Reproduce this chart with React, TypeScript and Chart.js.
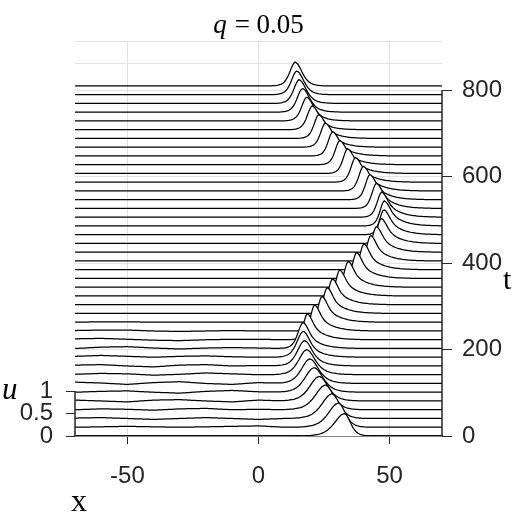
import React, { useEffect, useRef } from "react";
import { Chart, registerables } from "chart.js";

Chart.register(...registerables);

// ---- data ----
const TIMES = [
  0, 20.25, 40.5, 60.75, 81, 101.25, 121.5, 141.75, 162, 182.25, 202.5,
  222.75, 243, 263.25, 283.5, 303.75, 324, 344.25, 364.5, 384.75, 405,
  425.25, 445.5, 465.75, 486, 506.25, 526.5, 546.75, 567, 587.25, 607.5,
  627.75, 648, 668.25, 688.5, 708.75, 729, 749.25, 769.5, 789.75, 810,
];
// position of the pulse peak (x) of each trace
const PEAK_X = [
  32.8, 30.5, 28.0, 25.5, 23.2, 21.2, 19.6, 18.4, 17.6, 17.1, 17.0,
  18.6, 21.4, 24.2, 26.2, 28.2, 31.0, 34.2, 37.4, 40.2, 42.8,
  45.0, 46.8, 47.8, 48.0, 47.0, 45.0, 42.5, 40.0, 37.0, 34.0,
  31.0, 28.3, 25.5, 23.0, 20.5, 18.4, 16.8, 15.5, 14.6, 14.0,
];
// peak height u of each trace
const PEAK_U = [
  0.5, 0.54, 0.55, 0.55, 0.55, 0.55, 0.55, 0.56, 0.57, 0.58, 0.58,
  0.58, 0.58, 0.58, 0.58, 0.58, 0.58, 0.58, 0.58, 0.58, 0.57,
  0.57, 0.56, 0.56, 0.56, 0.56, 0.56, 0.56, 0.55, 0.55, 0.55,
  0.54, 0.54, 0.54, 0.53, 0.53, 0.53, 0.53, 0.53, 0.53, 0.53,
];
// half-widths (x units) of the rising (left) flank and of the falling (right) core
const WIDTH_LEFT = [
  5, 5, 5, 5, 4.8, 4.5, 4.2, 4, 3.6, 3.2, 2.6,
  1.9, 1.9, 1.9, 1.9, 1.9, 1.9, 1.9, 1.9, 1.9, 1.9,
  2.0, 2.0, 2.1, 2.2, 2.3, 2.3, 2.3, 2.3, 2.3, 2.3,
  2.3, 2.3, 2.4, 2.4, 2.5, 2.6, 2.7, 2.7, 2.7, 2.7,
];
const WIDTH_RIGHT = [
  3, 3.4, 3.8, 4.0, 4.2, 4.2, 4.0, 3.8, 3.4, 3.0, 2.8,
  2.6, 2.6, 2.6, 2.6, 2.6, 2.6, 2.6, 2.6, 2.6, 2.6,
  2.7, 2.8, 2.8, 2.8, 2.8, 2.8, 2.8, 2.8, 2.8, 2.8,
  2.9, 2.9, 3.0, 3.0, 3.1, 3.2, 3.3, 3.4, 3.4, 3.4,
];
// long trailing tail on the right of each pulse: height (u) and half-width (x units)
const TAIL_U = [
  0, 0, 0, 0.03, 0.06, 0.08, 0.1, 0.12, 0.14, 0.16, 0.18,
  0.2, 0.2, 0.2, 0.2, 0.2, 0.2, 0.2, 0.2, 0.2, 0.2,
  0.2, 0.2, 0.2, 0.2, 0.2, 0.2, 0.2, 0.2, 0.2, 0.2,
  0.19, 0.18, 0.17, 0.15, 0.13, 0.11, 0.08, 0.05, 0.02, 0,
];
const TAIL_W = [
  6, 6, 6, 6, 6.5, 7, 7, 7.5, 7.5, 8, 8,
  8, 8, 8, 8, 8, 8, 8, 8, 8, 8,
  8, 8, 8, 8, 8, 8, 8, 8, 8, 8,
  8, 8, 7.5, 7.5, 7, 7, 6.5, 6, 6, 6,
];
// normalised pulse profile (distance from peak in half-widths -> relative height)
const PROFILE_S = [0, 0.25, 0.5, 0.75, 1, 1.25, 1.5, 1.75, 2, 2.5, 3, 3.5, 4];
const PROFILE_U = [1, 0.94, 0.786, 0.597, 0.42, 0.28, 0.181, 0.114, 0.071, 0.027, 0.01, 0.004, 0];
// small radiation ripples on the left of the early traces
const RIPPLE_X = [-70, -60, -50, -40, -30, -20, -10, 0, 10];
const RIPPLE_U = [
  [0, 0, 0, 0, 0, 0, 0, 0, 0],
  [0, 0.01, 0.02, 0.01, 0, 0.01, 0.02, 0.03, 0],
  [0.01, 0.02, 0, -0.02, 0, 0.02, 0, -0.02, 0],
  [0, 0.02, 0.01, -0.01, 0.02, 0.03, 0, 0.01, 0],
  [0.02, 0, -0.02, 0.02, 0.03, 0, -0.02, 0.02, 0],
  [0, 0.02, 0.03, 0, -0.02, 0.02, 0.04, 0.01, 0],
  [0.03, 0.01, -0.02, 0.02, 0.04, 0, -0.02, 0.02, 0],
  [0.01, 0.03, 0.02, -0.01, 0.01, 0.04, 0.02, 0, 0],
  [0.02, 0.03, 0, -0.02, 0.02, 0.03, 0, 0.01, 0],
  [0.02, 0.04, 0.02, 0, 0.02, 0.03, 0.01, 0, 0],
  [0, 0.03, 0.04, 0.01, -0.01, 0.01, 0.02, 0.01, 0],
  [0.02, 0.03, 0.01, -0.01, -0.02, 0, 0.01, 0.01, 0],
  [0.01, 0.02, 0.02, 0, -0.01, 0, 0.01, 0, 0],
  [0, 0.01, 0.01, 0, 0, 0, 0, 0, 0],
];
const X_TICKS = [-50, 0, 50];
const T_TICKS = [0, 200, 400, 600, 800];
const U_TICKS = [0, 0.5, 1];
const X_MIN = -70;
const X_MAX = 70;
const X_STEP = 0.5;
const U_TO_T = 104; // vertical size of one unit of u, in t units
const TITLE_Q = "q";
const TITLE_REST = "= 0.05";

const T_LAST = TIMES[TIMES.length - 1];
const T_TOP = T_LAST + U_TICKS[2] * U_TO_T;
const BACK_GRID = [T_LAST + U_TICKS[1] * U_TO_T, T_TOP];

const AXIS = "#262626";
const GRID = "#e3e3e3";
const SANS = '"Liberation Sans", Arial, Helvetica, sans-serif';
const SERIF = '"Liberation Serif", "DejaVu Serif", serif';

function table(xs: number[], ys: number[], v: number): number {
  if (v <= xs[0]) return ys[0];
  for (let i = 1; i < xs.length; i++) {
    if (v <= xs[i]) {
      const f = (v - xs[i - 1]) / (xs[i] - xs[i - 1]);
      return ys[i - 1] + f * (ys[i] - ys[i - 1]);
    }
  }
  return ys[ys.length - 1];
}

function traceU(k: number, x: number): number {
  const d = x - PEAK_X[k];
  let u: number;
  if (d < 0) {
    u = PEAK_U[k] * table(PROFILE_S, PROFILE_U, -d / WIDTH_LEFT[k]);
  } else {
    const tail = TAIL_U[k];
    u =
      (PEAK_U[k] - tail) * table(PROFILE_S, PROFILE_U, d / WIDTH_RIGHT[k]) +
      tail * table(PROFILE_S, PROFILE_U, d / TAIL_W[k]);
  }
  const r = RIPPLE_U[k];
  if (r && x <= RIPPLE_X[RIPPLE_X.length - 1]) u += table(RIPPLE_X, r, x);
  return u;
}

const axisPlugin = {
  id: "waterfallAxes",
  afterDraw(chart: any) {
    const { ctx, chartArea } = chart;
    const t = chart.scales.t;
    const u = chart.scales.u;
    ctx.save();
    ctx.strokeStyle = AXIS;
    ctx.lineWidth = 1.5;
    ctx.beginPath();
    ctx.moveTo(chartArea.right, t.getPixelForValue(T_TICKS[0]));
    ctx.lineTo(chartArea.right, t.getPixelForValue(T_TICKS[T_TICKS.length - 1]));
    ctx.moveTo(chartArea.left, u.getPixelForValue(U_TICKS[0]));
    ctx.lineTo(chartArea.left, u.getPixelForValue(U_TICKS[U_TICKS.length - 1]));
    ctx.stroke();

    ctx.fillStyle = "#000";
    ctx.textBaseline = "alphabetic";
    ctx.textAlign = "left";
    ctx.font = `italic 31px ${SERIF}`;
    ctx.fillText("u", 2, 399);
    ctx.font = `32px ${SERIF}`;
    ctx.fillText("x", 71, 511);
    ctx.font = `30px ${SERIF}`;
    ctx.fillText("t", 503, 289);

    const cx = (chartArea.left + chartArea.right) / 2;
    ctx.font = `italic 27px ${SERIF}`;
    const wq = ctx.measureText(TITLE_Q).width;
    ctx.font = `27px ${SERIF}`;
    const wr = ctx.measureText(TITLE_REST).width;
    const gap = 8;
    const x0 = cx - (wq + gap + wr) / 2;
    ctx.font = `italic 27px ${SERIF}`;
    ctx.fillText(TITLE_Q, x0, 33);
    ctx.font = `27px ${SERIF}`;
    ctx.fillText(TITLE_REST, x0 + wq + gap, 33);
    ctx.restore();
  },
};

export default function App() {
  const ref = useRef<HTMLCanvasElement | null>(null);

  useEffect(() => {
    if (!ref.current) return;
    const xs: number[] = [];
    for (let x = X_MIN; x <= X_MAX + 1e-9; x += X_STEP) xs.push(Math.round(x * 100) / 100);

    const datasets = TIMES.map((t, k) => ({
      label: `t=${t}`,
      data: xs.map((x) => ({ x, y: t + U_TO_T * traceU(k, x) })),
      borderColor: "#000",
      borderWidth: 1.25,
      backgroundColor: "#ffffff",
      fill: { value: t },
      pointRadius: 0,
      tension: 0,
      xAxisID: "x",
      yAxisID: "t",
    }));

    const tickFont = { family: SANS, size: 24 };

    const chart = new Chart(ref.current, {
      type: "line",
      data: { datasets },
      plugins: [axisPlugin],
      options: {
        animation: false,
        responsive: false,
        devicePixelRatio: 1,
        events: [],
        layout: { padding: { top: 41, left: 0, right: 0, bottom: 0 } },
        plugins: {
          legend: { display: false },
          tooltip: { enabled: false },
          title: { display: false },
        },
        scales: {
          x: {
            type: "linear",
            position: "bottom",
            min: X_MIN,
            max: X_MAX,
            afterBuildTicks: (s: any) => {
              s.ticks = X_TICKS.map((v) => ({ value: v }));
            },
            afterFit: (s: any) => {
              s.height = 87;
            },
            grid: { color: GRID, tickColor: AXIS, tickLength: 8, lineWidth: 1 },
            border: { display: true, color: AXIS, width: 1.5 },
            ticks: {
              font: tickFont,
              color: AXIS,
              padding: 18,
              maxRotation: 0,
              autoSkip: false,
              callback: (v: any) => String(v),
            },
          },
          t: {
            type: "linear",
            position: "right",
            min: 0,
            max: T_TOP,
            afterBuildTicks: (s: any) => {
              s.ticks = [...T_TICKS, ...BACK_GRID].map((v) => ({ value: v }));
            },
            afterFit: (s: any) => {
              s.width = 81;
            },
            grid: {
              color: GRID,
              tickColor: (c: any) =>
                c.tick && T_TICKS.includes(c.tick.value) ? AXIS : "rgba(0,0,0,0)",
              tickLength: 10,
              lineWidth: 1,
            },
            border: { display: false },
            ticks: {
              font: tickFont,
              color: AXIS,
              padding: 10,
              autoSkip: false,
              callback: (v: any) => (T_TICKS.includes(v) ? String(v) : ""),
            },
          },
          u: {
            type: "linear",
            position: "left",
            min: 0,
            max: T_TOP / U_TO_T,
            afterBuildTicks: (s: any) => {
              s.ticks = U_TICKS.map((v) => ({ value: v }));
            },
            afterFit: (s: any) => {
              s.width = 75;
            },
            grid: { drawOnChartArea: false, tickColor: AXIS, tickLength: 9, lineWidth: 1 },
            border: { display: false },
            ticks: {
              font: tickFont,
              color: AXIS,
              padding: 13,
              autoSkip: false,
              callback: (v: any) => String(v),
            },
          },
        },
      } as any,
    });
    return () => chart.destroy();
  }, []);

  return (
    <div style={{ position: "absolute", left: 0, top: 0, width: 523, height: 523, background: "#fff" }}>
      <canvas ref={ref} width={523} height={523} style={{ display: "block" }} />
    </div>
  );
}
